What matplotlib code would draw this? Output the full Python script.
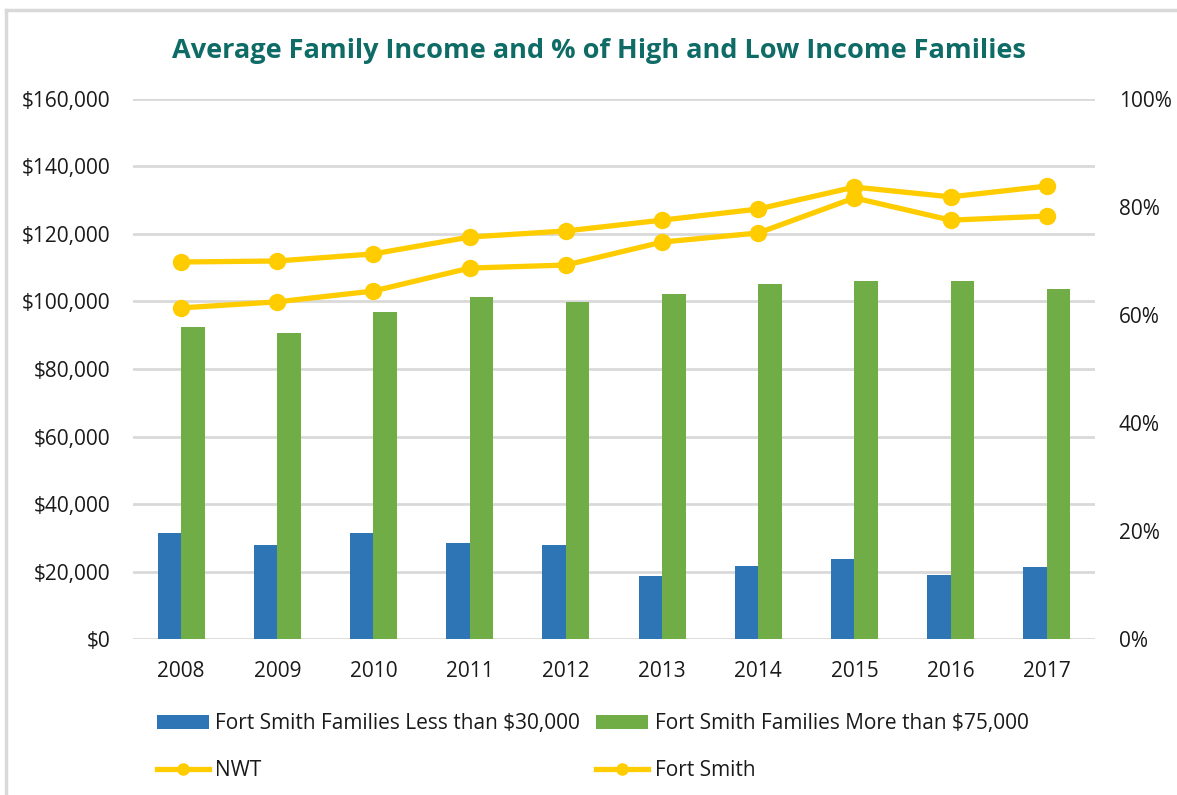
import matplotlib
matplotlib.use("Agg")
import matplotlib.pyplot as plt
from matplotlib.ticker import FuncFormatter, MultipleLocator
from matplotlib.lines import Line2D
import numpy as np

plt.rcParams['font.family'] = ['Open Sans', 'DejaVu Sans']

years = ["2008", "2009", "2010", "2011", "2012", "2013", "2014", "2015", "2016", "2017"]
less_30k = [0.196, 0.174, 0.196, 0.178, 0.174, 0.117, 0.135, 0.148, 0.119, 0.133]
more_75k = [0.578, 0.567, 0.606, 0.633, 0.624, 0.639, 0.657, 0.663, 0.663, 0.648]
nwt = [111700, 112000, 114100, 119100, 120900, 124100, 127400, 133900, 131000, 134200]
fort_smith = [98100, 99900, 103100, 109900, 110800, 117600, 120300, 130700, 124100, 125300]

BLUE = "#2E75B6"
GREEN = "#70AD47"
YELLOW = "#FFCC00"
GRID = "#D9D9D9"
TEXT = "#1a1a1a"
FS = 15

fig = plt.figure(figsize=(11.77, 7.95), dpi=100)
ax = fig.add_axes([0.1130, 0.1962, 0.8173, 0.6793])
ax2 = ax.twinx()

x = np.arange(len(years))
w = 0.245

# bars on the right (percentage) axis
b1 = ax2.bar(x - w / 2, less_30k, width=w, color=BLUE, label="Fort Smith Families Less than $30,000", zorder=2)
b2 = ax2.bar(x + w / 2, more_75k, width=w, color=GREEN, label="Fort Smith Families More than $75,000", zorder=2)
ax2.set_ylim(0, 1.0)
ax2.yaxis.set_major_locator(MultipleLocator(0.2))
ax2.yaxis.set_major_formatter(FuncFormatter(lambda v, p: f"{v*100:.0f}%"))

# lines on the left (dollar) axis, drawn on an overlay so they sit above the bars
ax3 = ax.twinx()
ax3.set_ylim(0, 160000)
ax3.axis('off')
l1, = ax3.plot(x, nwt, color=YELLOW, lw=3.8, marker='o', ms=11.5, label="NWT", zorder=5)
l2, = ax3.plot(x, fort_smith, color=YELLOW, lw=3.8, marker='o', ms=11.5, label="Fort Smith", zorder=5)

ax.set_ylim(0, 160000)
ax.yaxis.set_major_locator(MultipleLocator(20000))
ax.yaxis.set_major_formatter(FuncFormatter(lambda v, p: f"${v:,.0f}"))
ax.set_xticks(x)
ax.set_xticklabels(years)
ax.grid(axis='y', color=GRID, lw=2, zorder=0)
ax.set_axisbelow(True)

for a in (ax, ax2, ax3):
    for s in a.spines.values():
        s.set_visible(False)
    a.set_xlim(-0.5, len(years) - 0.5)

ax.tick_params(axis='both', length=0, labelsize=FS, colors=TEXT)
ax.tick_params(axis='y', pad=16)
ax.tick_params(axis='x', pad=16)
ax2.tick_params(axis='y', length=0, labelsize=FS, colors=TEXT, pad=17)

fig.text(0.509, 0.936, "Average Family Income and % of High and Low Income Families",
         ha='center', va='center', fontsize=19.5, fontweight='bold', color="#0E6B66")

leg = fig.legend(handles=[b1, l1, b2, l2],
                 labels=["Fort Smith Families Less than $30,000", "NWT",
                         "Fort Smith Families More than $75,000", "Fort Smith"],
                 ncol=2, loc='upper left', bbox_to_anchor=(0.133, 0.103),
                 frameon=False, fontsize=FS, handlelength=2.5, handletextpad=0.3,
                 columnspacing=0.8, labelspacing=1.25, borderaxespad=0, borderpad=0)
for t in leg.get_texts():
    t.set_color(TEXT)
for h in leg.legend_handles:
    if hasattr(h, "set_markersize"):
        h.set_markersize(8)

# chart border (left and top edges only)
bx = 6 / 1177
by = 1 - 10 / 795
fig.add_artist(Line2D([bx, bx], [0, by], transform=fig.transFigure, color=GRID, lw=2.5))
fig.add_artist(Line2D([bx, 1], [by, by], transform=fig.transFigure, color=GRID, lw=2.5))

fig.savefig("out.png", dpi=100)
